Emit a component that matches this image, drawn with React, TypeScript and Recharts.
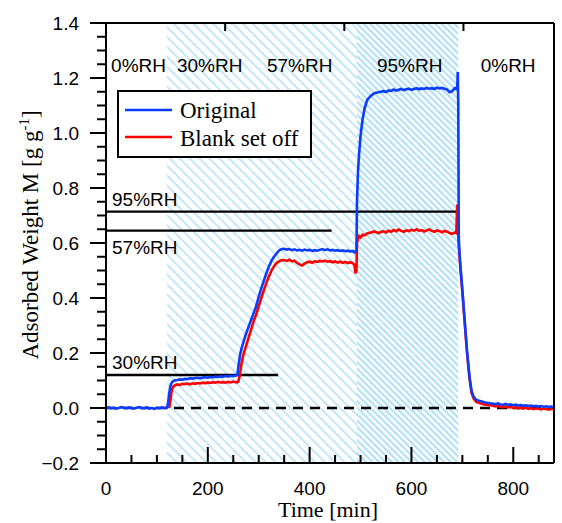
import React from "react";
import { LineChart, Line, XAxis, YAxis, ReferenceArea, ReferenceLine, Legend } from "recharts";

// time [min]
const time = [
  0, 5, 10, 15, 20, 25, 30, 35, 40, 45, 50, 55, 60, 65, 70, 75, 80, 85, 90, 95, 100, 105, 110, 115, 120,
  122, 124, 126, 128, 130, 133, 136,
  140, 145, 150, 155, 160, 165, 170, 175, 180, 185, 190, 195, 200, 205, 210, 215, 220, 225, 230, 235, 240, 245, 250, 255,
  258, 260, 263, 266, 270, 275, 280, 285, 290, 295, 300, 305, 310, 315, 320, 325, 330, 335, 340, 345,
  350, 355, 360, 365, 370, 375, 380, 385, 390, 395, 400, 405, 410, 415, 420, 425, 430, 435, 440, 445, 450, 455, 460, 465, 470, 475, 480, 485,
  488, 490, 492, 493, 495, 497, 500, 504, 508, 513, 520, 527, 535,
  540, 545, 550, 555, 560, 565, 570, 575, 580, 585, 590, 595, 600, 605, 610, 615, 620, 625, 630, 635, 640, 645, 650, 655, 660, 665, 670, 675, 680, 685,
  688, 690, 691, 692, 693, 694, 696, 699, 704, 709, 714, 718, 722, 727, 735, 745, 755,
  760, 765, 770, 775, 780, 785, 790, 795, 800, 805, 810, 815, 820, 825, 830, 835, 840, 845, 850, 855, 860, 865, 870, 875, 880,
];

const original = [
  0.0, 0.002, -0.001, 0.001, -0.002, 0.0, 0.003, 0.001, -0.001, 0.002, 0.0, -0.002, 0.001, 0.003, 0.0, -0.001, 0.002, -0.002, 0.0, -0.003, 0.001, -0.001, 0.002, 0.0, 0.001,
  0.02, 0.05, 0.075, 0.088, 0.094, 0.099, 0.101,
  0.102, 0.104, 0.103, 0.106, 0.105, 0.108, 0.107, 0.109, 0.11, 0.108, 0.111, 0.112, 0.11, 0.113, 0.112, 0.114, 0.113, 0.115, 0.114, 0.116, 0.115, 0.117, 0.116, 0.118,
  0.12, 0.15, 0.19, 0.215, 0.24, 0.27, 0.295, 0.32, 0.345, 0.37, 0.405, 0.435, 0.462, 0.49, 0.515, 0.535, 0.55, 0.562, 0.573, 0.578,
  0.579, 0.576, 0.578, 0.574, 0.577, 0.573, 0.575, 0.572, 0.576, 0.573, 0.575, 0.571, 0.574, 0.572, 0.575, 0.578, 0.574, 0.577, 0.573, 0.575, 0.572, 0.574, 0.571, 0.573, 0.57, 0.572, 0.569, 0.571,
  0.566, 0.568, 0.575, 0.75, 0.86, 0.92, 0.99, 1.05, 1.09, 1.12, 1.135, 1.145, 1.148,
  1.15, 1.152, 1.149, 1.155, 1.153, 1.158, 1.154, 1.157, 1.16, 1.156, 1.159, 1.161, 1.157, 1.16, 1.163, 1.159, 1.162, 1.16, 1.164, 1.161, 1.163, 1.16, 1.165, 1.162, 1.164, 1.161, 1.158, 1.148, 1.152, 1.163,
  1.16, 1.17, 1.222, 1.1, 0.62, 0.575, 0.52, 0.453, 0.332, 0.211, 0.114, 0.062, 0.042, 0.03, 0.025, 0.02, 0.017,
  0.016, 0.014, 0.017, 0.013, 0.012, 0.015, 0.011, 0.013, 0.01, 0.012, 0.009, 0.011, 0.008, 0.01, 0.007, 0.009, 0.006, 0.008, 0.005, 0.007, 0.004, 0.006, 0.004, 0.005, 0.003,
];

const blankSetOff = [
  null, null, null, null, null, null, null, null, null, null, null, null, null, null, null, null, null, null, null, null, null, null, null, null, null,
  null, 0.0, 0.02, 0.05, 0.07, 0.08, 0.083,
  0.086, 0.084, 0.088, 0.087, 0.089, 0.086, 0.09, 0.088, 0.091, 0.089, 0.092, 0.09, 0.093, 0.091, 0.094, 0.092, 0.095, 0.093, 0.094, 0.092, 0.095, 0.093, 0.096, 0.094,
  0.093, 0.097, 0.12, 0.16, 0.195, 0.225, 0.255, 0.285, 0.315, 0.34, 0.37, 0.4, 0.428, 0.455, 0.478, 0.5, 0.515, 0.527, 0.533, 0.537,
  0.538, 0.535, 0.539, 0.533, 0.536, 0.528, 0.522, 0.518, 0.525, 0.53, 0.532, 0.528, 0.534, 0.531, 0.535, 0.533, 0.536, 0.532, 0.534, 0.53, 0.533, 0.529, 0.532, 0.528, 0.531, 0.527, 0.53, 0.526,
  0.52, 0.49, 0.5, 0.6, 0.615, 0.625, 0.62, 0.63, 0.628, 0.635, 0.638, 0.642, 0.636,
  0.64, 0.643, 0.638, 0.645, 0.641, 0.647, 0.643, 0.649, 0.644, 0.641, 0.646, 0.643, 0.648, 0.645, 0.65, 0.644, 0.647, 0.642, 0.646, 0.649, 0.644, 0.641, 0.646, 0.643, 0.639, 0.644, 0.641, 0.636, 0.633, 0.638,
  0.636, 0.74, 0.69, 0.63, 0.59, 0.565, 0.51, 0.445, 0.325, 0.205, 0.108, 0.055, 0.035, 0.022, 0.017, 0.012, 0.01,
  0.008, 0.006, 0.009, 0.004, 0.003, 0.006, 0.002, 0.004, 0.0, 0.003, -0.001, 0.002, -0.002, 0.001, -0.003, 0.0, -0.004, -0.001, -0.003, -0.005, -0.002, -0.004, -0.006, -0.003, -0.005,
];

// humidity stages: start/end time [min] and %RH
const stageStart = [0, 120, 260, 493, 692];
const stageEnd = [120, 260, 493, 692, 880];
const stageRH = [0, 30, 57, 95, 0];

// equilibrium reference levels
const levelRH = [30, 57, 95];
const levelValue = [0.12, 0.645, 0.714];
const levelUntil = [338, 443, 692];

const xTicks = [0, 50, 100, 150, 200, 250, 300, 350, 400, 450, 500, 550, 600, 650, 700, 750, 800, 850];
const yTicks = [
  -0.2, -0.15, -0.1, -0.05, 0, 0.05, 0.1, 0.15, 0.2, 0.25, 0.3, 0.35, 0.4, 0.45, 0.5, 0.55, 0.6, 0.65, 0.7,
  0.75, 0.8, 0.85, 0.9, 0.95, 1.0, 1.05, 1.1, 1.15, 1.2, 1.25, 1.3, 1.35, 1.4,
];

const data = time.map((t, i) => ({ t, original: original[i], blank: blankSetOff[i] }));

const BLUE = "#0a3cff";
const RED = "#ff0000";
const SANS = '"Liberation Sans", Arial, sans-serif';
const SERIF = '"Liberation Serif", "Times New Roman", serif';

const isMajorX = (v: number) => v % 200 === 0;
const isMajorY = (v: number) => Math.round(v * 100) % 20 === 0;

const BottomTick = (props: any) => {
  const { x, y, payload } = props;
  const major = isMajorX(payload.value);
  return (
    <g>
      <line x1={x} y1={y} x2={x} y2={y - (major ? 16 : 8)} stroke="#000" strokeWidth={2} />
      {major && (
        <text x={x} y={y + 32} textAnchor="middle" fontSize={19} fontFamily={SANS} fill="#000">
          {payload.value}
        </text>
      )}
    </g>
  );
};

const TopTick = (props: any) => {
  const { x, y, payload } = props;
  const major = isMajorX(payload.value);
  return <line x1={x} y1={y} x2={x} y2={y + (major ? 16 : 8)} stroke="#000" strokeWidth={2} />;
};

const LeftTick = (props: any) => {
  const { x, y, payload } = props;
  const major = isMajorY(payload.value);
  return (
    <g>
      <line x1={x} y1={y} x2={x - (major ? 16 : 9)} y2={y} stroke="#000" strokeWidth={2} />
      {major && (
        <text x={x - 27} y={y + 7} textAnchor="end" fontSize={19} fontFamily={SANS} fill="#000">
          {payload.value.toFixed(1).replace("-", "\u2212")}
        </text>
      )}
    </g>
  );
};

const RightTick = (props: any) => {
  const { x, y, payload } = props;
  const major = isMajorY(payload.value);
  return <line x1={x} y1={y} x2={x + (major ? 16 : 9)} y2={y} stroke="#000" strokeWidth={2} />;
};

const LegendBox = () => (
  <svg width={195} height={68} style={{ display: "block" }}>
    <rect x={1} y={1} width={193} height={66} fill="#fff" stroke="#000" strokeWidth={2} />
    <line x1={8} y1={20} x2={55} y2={20} stroke={BLUE} strokeWidth={2.5} />
    <text x={63} y={28} fontSize={23} fontFamily={SERIF}>Original</text>
    <line x1={8} y1={47} x2={55} y2={47} stroke={RED} strokeWidth={2.5} />
    <text x={63} y={56} fontSize={23} fontFamily={SERIF}>Blank set off</text>
  </svg>
);

export default function App() {
  return (
    <div style={{ position: "absolute", left: 0, top: 0 }}>
      <LineChart width={562} height={523} data={data} margin={{ top: 0, right: 0, bottom: 0, left: 0 }}>
        <defs>
          <pattern id="hatchLight" patternUnits="userSpaceOnUse" width={7} height={10} patternTransform="rotate(-45)">
            <rect x={0} y={0} width={2} height={10} fill="#c2e7f8" />
          </pattern>
          <pattern id="hatchDense" patternUnits="userSpaceOnUse" width={4.6} height={10} patternTransform="rotate(-45)">
            <rect x={0} y={0} width={2.2} height={10} fill="#b3e0f6" />
          </pattern>
        </defs>

        <XAxis
          xAxisId="b"
          dataKey="t"
          type="number"
          domain={[0, 880]}
          ticks={xTicks}
          interval={0}
          height={60}
          tickSize={0}
          tickMargin={0}
          tickLine={false}
          tick={BottomTick}
          axisLine={{ stroke: "#000", strokeWidth: 2 }}
          label={{
            content: (p: any) => (
              <text x={p.viewBox.x + p.viewBox.width / 2 - 2} y={p.viewBox.y + 54} textAnchor="middle" fontSize={22} fontFamily={SERIF}>
                Time [min]
              </text>
            ),
          }}
        />
        <XAxis
          xAxisId="t"
          orientation="top"
          type="number"
          domain={[0, 880]}
          ticks={xTicks}
          interval={0}
          height={23}
          tickSize={0}
          tickMargin={0}
          tickLine={false}
          tick={TopTick}
          axisLine={{ stroke: "#000", strokeWidth: 2 }}
        />
        <YAxis
          yAxisId="l"
          type="number"
          domain={[-0.2, 1.4]}
          ticks={yTicks}
          interval={0}
          width={106}
          tickSize={0}
          tickMargin={0}
          tickLine={false}
          tick={LeftTick}
          axisLine={{ stroke: "#000", strokeWidth: 2 }}
          label={{
            content: (p: any) => {
              const cx = p.viewBox.x + 38;
              const cy = p.viewBox.y + p.viewBox.height / 2 - 8;
              return (
                <text x={cx} y={cy} transform={`rotate(-90, ${cx}, ${cy})`} textAnchor="middle" fontSize={23} fontFamily={SERIF}>
                  Adsorbed Weight M [g g<tspan dy={-9} fontSize={15}>-1</tspan>
                  <tspan dy={9}>]</tspan>
                </text>
              );
            },
          }}
        />
        <YAxis
          yAxisId="r"
          orientation="right"
          type="number"
          domain={[-0.2, 1.4]}
          ticks={yTicks}
          interval={0}
          width={8}
          tickSize={0}
          tickMargin={0}
          tickLine={false}
          tick={RightTick}
          axisLine={{ stroke: "#000", strokeWidth: 2 }}
        />

        {/* hatched humidity backgrounds */}
        {stageRH.map((rh, i) => (
          <ReferenceArea
            key={`stage-${i}`}
            xAxisId="b"
            yAxisId="l"
            x1={stageStart[i]}
            x2={stageEnd[i]}
            fill={rh === 0 ? "none" : rh === 95 ? "url(#hatchDense)" : "url(#hatchLight)"}
            fillOpacity={1}
            stroke="none"
          />
        ))}
        {/* stage names, drawn after all fills */}
        {stageRH.map((rh, i) => (
          <ReferenceArea
            key={`stage-label-${i}`}
            xAxisId="b"
            yAxisId="l"
            x1={stageStart[i]}
            x2={stageEnd[i]}
            fill="none"
            stroke="none"
            label={{
              content: (p: any) => (
                <text x={p.viewBox.x + p.viewBox.width / 2 + (rh === 30 ? 7 : 2)} y={72} textAnchor="middle" fontSize={19} fontFamily={SANS}>
                  {`${rh}%RH`}
                </text>
              ),
            }}
          />
        ))}

        {levelRH.map((rh, i) => (
          <ReferenceLine
            key={`level-${i}`}
            xAxisId="b"
            yAxisId="l"
            segment={[
              { x: 0, y: levelValue[i] },
              { x: levelUntil[i], y: levelValue[i] },
            ]}
            stroke="#000"
            strokeWidth={2.4}
            label={{
              content: (p: any) => (
                <text x={p.viewBox.x + 6} y={p.viewBox.y + (rh === 57 ? 23 : -6)} fontSize={19} fontFamily={SANS}>
                  {`${rh}%RH`}
                </text>
              ),
            }}
          />
        ))}

        <ReferenceLine xAxisId="b" yAxisId="l" y={0} stroke="#000" strokeWidth={2.4} strokeDasharray="10 7" />

        <Legend
          layout="vertical"
          align="center"
          verticalAlign="middle"
          wrapperStyle={{ left: 117, top: 90, width: 195, height: 68 }}
          content={() => <LegendBox />}
        />

        <Line
          xAxisId="b"
          yAxisId="l"
          type="linear"
          dataKey="blank"
          name="Blank set off"
          stroke={RED}
          strokeWidth={2.6}
          dot={false}
          isAnimationActive={false}
        />
        <Line
          xAxisId="b"
          yAxisId="l"
          type="linear"
          dataKey="original"
          name="Original"
          stroke={BLUE}
          strokeWidth={2.6}
          dot={false}
          isAnimationActive={false}
        />
      </LineChart>
    </div>
  );
}
